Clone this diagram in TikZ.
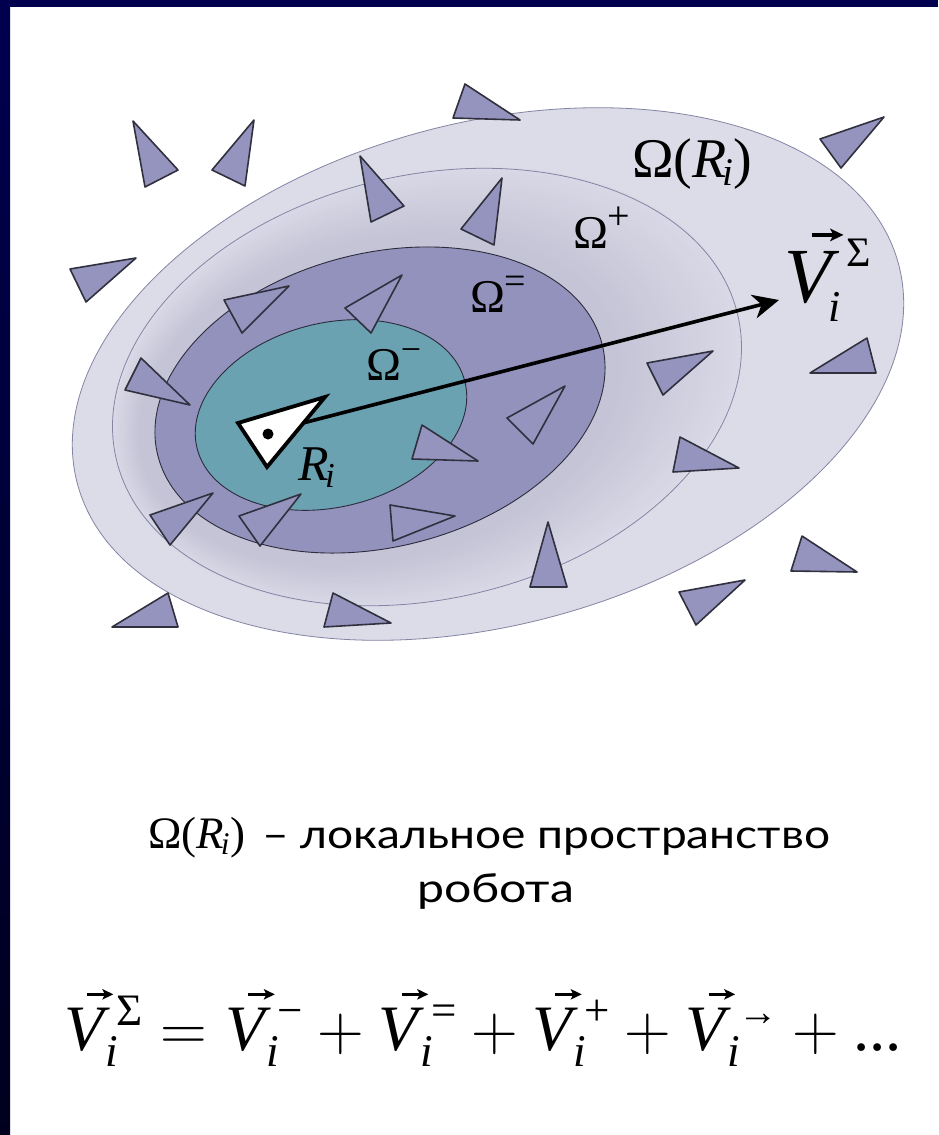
\RequirePackage{fix-cm}
\documentclass[tikz,border=0pt]{standalone}
\usepackage{amsmath}
\usepackage{graphicx}
\usepackage{fontspec}
\setmainfont{Liberation Serif}
\newfontfamily\tnr{Liberation Serif}
\newfontfamily\gothic{Lato}
\usetikzlibrary{arrows.meta}

\definecolor{outerfill}{HTML}{DCDCE9}
\definecolor{outeredge}{HTML}{8484A4}
\definecolor{midfill}{HTML}{9292BC}
\definecolor{innerfill}{HTML}{6BA2B2}
\definecolor{darkedge}{HTML}{2C2C3C}
\definecolor{trifill}{HTML}{9494BE}
\definecolor{triedge}{HTML}{30303F}
\definecolor{navy}{HTML}{00004F}
\definecolor{navydark}{HTML}{00001E}
\definecolor{plusdark}{HTML}{C4C4D6}
\definecolor{pluslight}{HTML}{D8D8E6}

% small arrow used as vector accent
\newcommand{\varr}{\tikz[baseline=0pt, x=1em, y=1em]\draw[black, line width=0.045em, -{Stealth[length=0.17em, width=0.16em, inset=0.04em]}] (0,0.86) -- (0.41,0.86);}
% italic V with the arrow above it (arrow smashed so that scripts sit normally)
\newcommand{\Vt}{\text{\tnr\rlap{\hspace{0.33em}\smash{\varr}}\itshape V\/\kern0.1em}}
\newcommand{\isub}{\text{\tnr\kern-0.1em\itshape i}}
\newcommand{\vsub}{\text{\tnr\kern-0.24em\itshape i}}
\newcommand{\tx}[1]{\text{\tnr #1}}
\newcommand{\spx}[2]{\mbox{\tnr\fontsize{#1}{#1}\selectfont #2}}

\begin{document}
\begin{tikzpicture}[x={(1pt,0)}, y={(0,-1pt)},
  tri/.style={fill=trifill, draw=triedge, line width=1.6pt, line join=round},
  lbl/.style={inner sep=0pt, outer sep=0pt, anchor=base west, text=black}]
\useasboundingbox (0,0) rectangle (938,1135);
\fill[white] (0,0) rectangle (938,1135);

% outer region Omega(R_i)
\fill[outerfill, rotate around={15:(488,374)}] (488,374) ellipse [x radius=425pt, y radius=251pt];
\draw[outeredge, line width=0.8pt, rotate around={15:(488,374)}] (488,374) ellipse [x radius=425pt, y radius=251pt];

% Omega+ with soft gradient
\foreach \k in {0,...,24}{
  \pgfmathsetmacro{\myt}{\k/24}
  \pgfmathsetmacro{\cx}{427+\myt*(380-427)}
  \pgfmathsetmacro{\cy}{387+\myt*(400-387)}
  \pgfmathsetmacro{\ra}{319+\myt*(245-319)}
  \pgfmathsetmacro{\rb}{212+\myt*(160-212)}
  \pgfmathsetmacro{\pc}{\myt*100}
  \fill[plusdark!\pc!pluslight, rotate around={14:(\cx,\cy)}] (\cx,\cy) ellipse [x radius=\ra pt, y radius=\rb pt];
}
\draw[outeredge, line width=0.8pt, rotate around={13:(427,387)}] (427,387) ellipse [x radius=319pt, y radius=212pt];

% Omega=
\filldraw[fill=midfill, draw=darkedge, line width=0.9pt, rotate around={14:(380,400)}] (380,400) ellipse [x radius=229pt, y radius=147pt];
% Omega-
\filldraw[fill=innerfill, draw=darkedge, line width=0.9pt, rotate around={14:(331,415)}] (331,415) ellipse [x radius=138pt, y radius=92pt];

% obstacles
\draw[tri] (133,121) -- (178,170) -- (145,187) -- cycle;
\draw[tri] (254,120) -- (245,186) -- (212,170) -- cycle;
\draw[tri] (70,269) -- (136,258) -- (86,302) -- cycle;
\draw[tri] (360,156) -- (404,206) -- (371,222) -- cycle;
\draw[tri] (465,84) -- (520,120) -- (453,118) -- cycle;
\draw[tri] (502,178) -- (494,245) -- (461,229) -- cycle;
\draw[tri] (224,300) -- (289,286) -- (242,333) -- cycle;
\draw[tri] (402,275) -- (371,333) -- (345,308) -- cycle;
\draw[tri] (141,358) -- (190,405) -- (125,390) -- cycle;
\draw[tri] (422,425) -- (478,461) -- (412,459) -- cycle;
\draw[tri] (150,515) -- (213,493) -- (170,545) -- cycle;
\draw[tri] (239,516) -- (301,494) -- (260,546) -- cycle;
\draw[tri] (390,505) -- (455,516) -- (393,541) -- cycle;
\draw[tri] (168,593) -- (178,627) -- (112,627) -- cycle;
\draw[tri] (333,593) -- (391,623) -- (324,627) -- cycle;
\draw[tri] (565,386) -- (533,444) -- (507,418) -- cycle;
\draw[tri] (680,437) -- (739,468) -- (673,472) -- cycle;
\draw[tri] (548,522) -- (567,587) -- (530,587) -- cycle;
\draw[tri] (802,536) -- (857,572) -- (791,571) -- cycle;
\draw[tri] (679,592) -- (745,580) -- (696,625) -- cycle;
\draw[tri] (647,363) -- (713,351) -- (663,395) -- cycle;
\draw[tri] (810,373) -- (867,338) -- (876,373) -- cycle;
\draw[tri] (820,139) -- (884,117) -- (841,168) -- cycle;

% resulting vector
\coordinate (vstart) at (303,423);
\coordinate (vtip) at (779,300);
\draw[line width=3.6pt, -{Stealth[length=26pt, width=24pt, inset=8pt]}] (vstart) -- (vtip);

% robot
\draw[fill=white, draw=black, line width=3.8pt, line join=miter] (238,423) -- (325,397) -- (267,467) -- cycle;
\fill[black] (268,434) circle (5.5pt);

% labels in the diagram
\node[lbl, font=\fontsize{56}{60}\selectfont] (lblOmegaR) at (632,177) {$\tx{Ω}\tx{(}\text{\tnr\itshape R\/}_{\isub}\tx{)}$};
\node[lbl, font=\fontsize{47}{50}\selectfont] (lblPlus) at (573,248) {$\tx{Ω}^{\spx{40}{+}}$};
\node[lbl, font=\fontsize{47}{50}\selectfont] (lblEq) at (470,312) {$\tx{Ω}^{\spx{38}{=}}$};
\node[lbl, font=\fontsize{47}{50}\selectfont] (lblMinus) at (366,380) {$\tx{Ω}^{\spx{36}{−}}$};
\node[lbl, font=\fontsize{50}{54}\selectfont] (lblR) at (298,480) {$\text{\tnr\itshape R\/}_{\isub}$};
\node[lbl, font=\fontsize{78}{82}\selectfont] (lblV) at (784,302)
  {$\Vt^{\spx{42}{\raisebox{6pt}{Σ}}}_{\spx{44}{\kern-0.42em\itshape i}}$};

% caption
\node[lbl, font=\fontsize{45}{50}\selectfont] (capOmega) at (148,848)
  {$\tx{Ω}\tx{(}\text{\tnr\itshape R\/}_{\isub}\tx{)}$};
\node[lbl] (cap1) at (262,848)
  {\resizebox{568pt}{\height}{\fontsize{40}{44}\selectfont\gothic – локальное пространство}};
\node[lbl] (cap2) at (417,902)
  {\resizebox{157pt}{\height}{\fontsize{40}{44}\selectfont\gothic робота}};

% formula
\node[lbl] (formula) at (64,1050)
  {\resizebox{838pt}{!}{\fontsize{72}{76}\selectfont$\Vt^{\spx{50}{Σ}}_{\vsub} = \Vt^{\spx{50}{−}}_{\vsub} + \Vt^{\spx{50}{=}}_{\vsub} + \Vt^{\spx{50}{+}}_{\vsub} + \Vt^{\spx{44}{→}}_{\vsub} + \tx{...}$}};

% slide frame
\fill[navy] (0,0) rectangle (938,7);
\shade[top color=navy, bottom color=navydark] (0,0) rectangle (10,1135);
\end{tikzpicture}
\end{document}
